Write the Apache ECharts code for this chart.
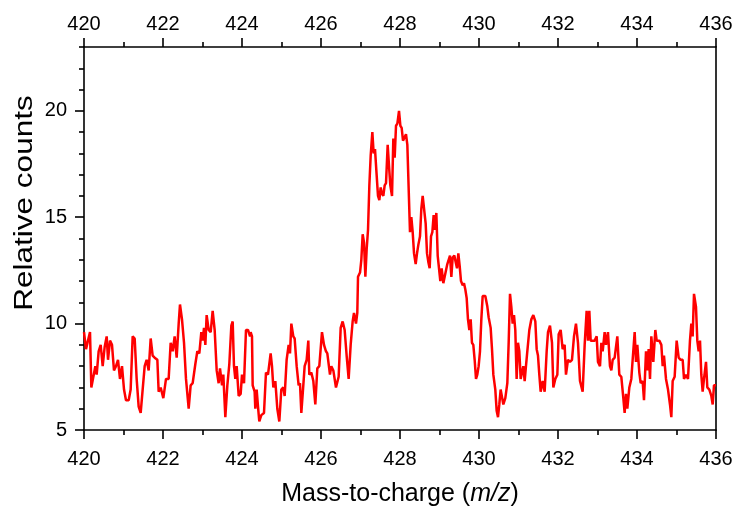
<!DOCTYPE html>
<html>
<head>
<meta charset="utf-8">
<script src="https://cdn.jsdelivr.net/npm/echarts@6/dist/echarts.min.js"></script>
<style>html,body{margin:0;padding:0;background:#fff}#c{width:737px;height:512px}</style>
</head>
<body>
<div id="c"></div>
<script>
var mz = [
420.000,420.051,420.101,420.152,420.186,420.236,420.287,420.321,420.371,420.422,420.473,420.523,420.574,420.608,420.658,420.709,420.759,420.810,420.861,420.911,420.962,
421.013,421.063,421.131,421.181,421.232,421.283,421.333,421.384,421.435,421.485,421.536,421.586,421.637,421.688,421.738,421.789,421.857,421.890,421.941,
422.008,422.076,422.143,422.194,422.245,422.295,422.346,422.397,422.430,422.481,422.532,422.582,422.650,422.700,422.751,422.819,422.869,422.920,422.970,
423.004,423.038,423.072,423.105,423.156,423.207,423.257,423.308,423.359,423.409,423.443,423.494,423.527,423.578,423.629,423.679,423.730,423.764,423.797,423.831,423.865,423.916,423.966,
424.000,424.051,424.101,424.152,424.203,424.219,424.253,424.270,424.320,424.337,424.371,424.405,424.438,424.489,424.557,424.607,424.658,424.725,424.759,424.793,424.844,424.894,424.945,424.995,
425.046,425.080,425.130,425.181,425.215,425.249,425.299,425.333,425.384,425.434,425.468,425.502,425.552,425.586,425.637,425.679,425.704,425.755,425.806,425.856,425.907,425.957,
426.025,426.076,426.126,426.160,426.227,426.261,426.312,426.379,426.447,426.498,426.548,426.599,426.649,426.700,426.751,426.801,426.835,426.886,426.919,426.937,426.988,
427.021,427.055,427.089,427.123,427.156,427.190,427.224,427.258,427.300,427.333,427.367,427.401,427.443,427.477,427.511,427.544,427.578,427.612,427.646,427.688,427.722,427.755,427.798,427.831,427.865,427.899,427.933,427.975,
428.009,428.042,428.076,428.118,428.152,428.186,428.220,428.253,428.287,428.321,428.355,428.397,428.431,428.464,428.506,428.540,428.574,428.616,428.650,428.684,428.717,428.751,428.785,428.819,428.852,428.886,428.920,428.954,428.987,
429.021,429.055,429.097,429.131,429.165,429.198,429.232,429.266,429.300,429.333,429.376,429.409,429.443,429.477,429.511,429.544,429.587,429.620,429.654,429.688,429.721,429.755,429.789,429.822,429.856,429.890,429.924,429.957,429.991,
430.025,430.059,430.093,430.160,430.211,430.244,430.295,430.329,430.363,430.413,430.447,430.481,430.514,430.548,430.582,430.616,430.666,430.717,430.751,430.785,430.818,430.852,430.886,430.919,430.953,430.987,
431.021,431.055,431.088,431.122,431.156,431.189,431.223,431.274,431.325,431.375,431.426,431.460,431.493,431.527,431.561,431.612,431.662,431.713,431.747,431.797,431.848,431.882,431.932,431.983,
432.017,432.067,432.118,432.168,432.202,432.253,432.303,432.354,432.405,432.455,432.506,432.557,432.624,432.675,432.725,432.759,432.793,432.827,432.877,432.928,432.979,
433.012,433.063,433.097,433.131,433.181,433.215,433.265,433.316,433.350,433.384,433.434,433.502,433.552,433.603,433.654,433.687,433.721,433.755,433.806,433.856,433.890,433.941,433.974,
434.008,434.059,434.093,434.143,434.177,434.228,434.261,434.295,434.329,434.363,434.413,434.464,434.498,434.565,434.616,434.650,434.683,434.734,434.785,434.835,434.869,434.903,434.953,
435.004,435.055,435.105,435.156,435.190,435.240,435.291,435.341,435.375,435.409,435.443,435.493,435.527,435.561,435.595,435.628,435.662,435.696,435.747,435.780,435.831,435.882,435.916,435.949,436.000
];
var counts = [
9.6,8.8,9.2,9.6,7.0,7.0,8.0,7.6,8.7,9.0,8.0,8.9,9.4,8.3,9.2,9.0,7.8,8.0,8.3,7.4,8.0,
6.9,6.4,6.4,6.9,9.4,9.3,7.4,6.1,5.8,6.9,8.0,8.3,7.8,9.3,8.5,8.4,8.3,6.8,7.0,
6.5,7.4,7.4,9.1,8.7,9.4,8.4,10.0,10.9,10.2,9.1,7.4,6.0,7.1,7.2,8.1,8.7,8.6,9.6,
9.2,9.8,9.0,10.4,9.7,9.6,10.6,9.7,7.8,7.2,7.9,7.1,7.6,5.6,7.1,8.1,9.9,10.1,8.0,7.4,8.0,6.6,6.7,
7.6,7.2,9.7,9.7,9.4,9.6,9.4,7.1,6.8,6.0,6.9,6.1,5.4,5.7,5.8,7.7,7.6,8.6,8.0,7.0,7.3,6.0,5.4,6.9,
7.0,6.6,8.3,9.0,8.6,10.0,9.4,9.3,8.0,7.1,7.2,5.8,7.1,8.0,8.3,9.2,7.6,7.7,7.3,6.2,7.9,8.0,
9.6,9.0,8.7,8.6,7.6,8.0,7.8,7.0,7.5,9.8,10.1,9.7,8.5,7.4,9.0,10.1,10.5,10.0,10.5,12.2,12.4,
13.0,14.2,13.8,12.2,13.5,14.4,16.5,17.9,19.0,18.0,18.2,17.2,16.0,15.8,16.4,16.1,16.0,16.5,16.6,18.4,17.4,16.5,16.0,18.7,17.8,19.3,19.4,20.0,
19.3,19.2,18.6,18.6,18.9,18.4,16.3,14.3,15.0,14.3,13.3,12.8,13.3,13.7,14.1,15.4,16.0,16.0,14.7,13.3,12.9,12.6,14.1,14.3,15.1,14.4,15.2,13.2,13.2,
12.0,12.6,11.9,12.2,12.2,12.8,12.8,13.2,12.2,13.1,13.2,12.9,12.6,13.3,12.7,12.0,11.8,11.9,11.6,11.2,10.2,9.7,10.2,9.1,9.0,8.3,7.4,7.6,8.0,
8.7,10.2,11.3,11.3,10.8,10.3,9.8,8.8,7.6,6.9,5.9,5.6,6.2,6.9,6.9,6.2,6.5,7.2,9.1,11.4,10.8,10.0,10.4,9.7,7.4,9.1,
8.7,7.4,7.7,8.0,7.3,8.0,8.7,9.7,10.2,10.4,10.1,8.8,8.5,7.6,6.8,7.3,6.8,8.7,9.6,9.9,9.1,7.0,7.4,7.6,
9.5,9.7,8.8,9.0,7.6,8.3,8.2,8.3,9.4,10.0,9.1,7.3,6.8,9.0,10.6,9.2,10.6,9.2,9.2,9.2,9.4,
8.2,8.0,9.1,8.7,9.6,9.0,9.6,8.0,7.8,8.3,8.4,9.4,7.6,7.5,6.5,5.8,6.7,6.0,7.0,7.4,8.3,9.6,8.2,
9.0,7.7,7.2,7.3,6.4,8.7,7.8,8.8,7.4,9.4,8.2,9.7,9.2,9.2,9.0,8.0,8.5,7.4,6.9,6.2,5.6,7.3,7.5,
9.2,8.4,8.3,8.3,7.4,7.6,7.4,9.2,10.0,9.4,11.4,10.8,9.2,8.7,9.2,7.6,6.8,7.4,8.2,7.0,6.9,6.6,6.2,7.1,7.1
];
var yMajorTicks = [5, 10, 15, 20];
var yMinorTicks = [6, 7, 8, 9, 11, 12, 13, 14, 16, 17, 18, 19, 21, 22, 23];
var xTitle = 'Mass-to-charge ({i|m/z})';
var yTitle = 'Relative counts';

var data = mz.map(function (x, i) { return [x, counts[i]]; });
var FONT = 'Liberation Sans, Arial, Helvetica, sans-serif';
var chart = echarts.init(document.getElementById('c'), null, {renderer: 'canvas'});

function xAxisCfg(pos, withName) {
  var a = {
    type: 'value', position: pos, min: 420, max: 436, interval: 2,
    axisLine: {show: true, onZero: false, lineStyle: {color: '#000', width: 1.6}},
    axisTick: {show: true, inside: false, length: 9, lineStyle: {color: '#000', width: 1.6}},
    minorTick: {show: true, splitNumber: 2, length: 5, lineStyle: {color: '#000', width: 1.6}},
    axisLabel: {show: true, color: '#000', fontSize: 20, fontFamily: FONT, margin: pos === 'bottom' ? 19 : 13},
    splitLine: {show: false}, minorSplitLine: {show: false}
  };
  if (withName) {
    a.name = xTitle;
    a.nameLocation = 'middle';
    a.nameGap = 52;
    a.nameTextStyle = {color: '#000', fontSize: 25, fontFamily: FONT,
      rich: {i: {fontStyle: 'italic', fontSize: 25, fontFamily: FONT, color: '#000'}}};
  }
  return a;
}

chart.setOption({
  animation: false,
  backgroundColor: '#fff',
  grid: {left: 84, right: 21, top: 47, bottom: 80.5, containLabel: false},
  xAxis: [xAxisCfg('bottom', true), xAxisCfg('top', false)],
  yAxis: [
    {
      type: 'value', position: 'left', min: 5, max: 23,
      axisLine: {show: true, onZero: false, lineStyle: {color: '#000', width: 1.6}},
      axisTick: {show: true, inside: false, length: 9, customValues: yMajorTicks, lineStyle: {color: '#000', width: 1.6}},
      axisLabel: {show: true, color: '#000', fontSize: 20, fontFamily: FONT, margin: 17, customValues: yMajorTicks},
      splitLine: {show: false}
    },
    {
      type: 'value', position: 'left', min: 5, max: 23,
      axisLine: {show: false},
      axisTick: {show: true, inside: false, length: 5, customValues: yMinorTicks, lineStyle: {color: '#000', width: 1.6}},
      axisLabel: {show: false},
      splitLine: {show: false}
    },
    {
      type: 'value', position: 'right', min: 5, max: 23,
      axisLine: {show: true, onZero: false, lineStyle: {color: '#000', width: 1.6}},
      axisTick: {show: false}, axisLabel: {show: false}, splitLine: {show: false}
    }
  ],
  graphic: [{
    type: 'text', x: 25, y: 203, rotation: Math.PI / 2, scaleX: 1.26, scaleY: 1,
    style: {text: yTitle, fill: '#000', fontSize: 25, fontFamily: FONT, align: 'center', verticalAlign: 'middle'}
  }],
  series: [{
    type: 'line', data: data, xAxisIndex: 0, yAxisIndex: 0,
    showSymbol: false, symbol: 'none', smooth: false,
    lineStyle: {color: '#ff0000', width: 2.5}, clip: true
  }]
});
</script>
</body>
</html>
